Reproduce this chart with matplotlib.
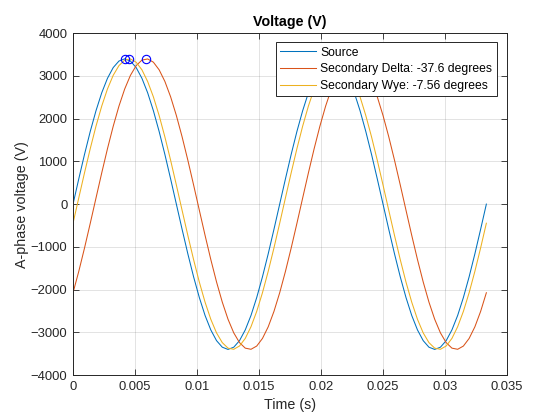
import numpy as np
import matplotlib
matplotlib.use("Agg")
import matplotlib.pyplot as plt

# samples every 10 degrees of a 60 Hz cycle (1/2160 s)
sample_step = 1.0 / 2160

source = [0, 590, 1163, 1700, 2185, 2605, 2944, 3195, 3348, 3400, 3348, 3195,
          2944, 2605, 2185, 1700, 1163, 590, 0, -590, -1163, -1700, -2185, -2605,
          -2944, -3195, -3348, -3400, -3348, -3195, -2944, -2605, -2185, -1700, -1163, -590,
          0, 590, 1163, 1700, 2185, 2605, 2944, 3195, 3348, 3400, 3348, 3195,
          2944, 2605, 2185, 1700, 1163, 590, 0, -590, -1163, -1700, -2185, -2605,
          -2944, -3195, -3348, -3400, -3348, -3195, -2944, -2605, -2185, -1700, -1163, -590,
          0]

delta = [-2074, -1575, -1028, -450, 142, 730, 1296, 1822, 2293, 2694, 3013, 3241,
         3370, 3397, 3321, 3143, 2871, 2511, 2074, 1575, 1028, 450, -142, -730,
         -1296, -1822, -2293, -2694, -3013, -3241, -3370, -3397, -3321, -3143, -2871, -2511,
         -2074, -1575, -1028, -450, 142, 730, 1296, 1822, 2293, 2694, 3013, 3241,
         3370, 3397, 3321, 3143, 2871, 2511, 2074, 1575, 1028, 450, -142, -730,
         -1296, -1822, -2293, -2694, -3013, -3241, -3370, -3397, -3321, -3143, -2871, -2511,
         -2074]

wye = [-447, 145, 732, 1298, 1824, 2294, 2695, 3014, 3241, 3370, 3397, 3320,
       3143, 2869, 2509, 2073, 1573, 1026, 447, -145, -732, -1298, -1824, -2294,
       -2695, -3014, -3241, -3370, -3397, -3320, -3143, -2869, -2509, -2073, -1573, -1026,
       -447, 145, 732, 1298, 1824, 2294, 2695, 3014, 3241, 3370, 3397, 3320,
       3143, 2869, 2509, 2073, 1573, 1026, 447, -145, -732, -1298, -1824, -2294,
       -2695, -3014, -3241, -3370, -3397, -3320, -3143, -2869, -2509, -2073, -1573, -1026,
       -447]

# first peak of each waveform
peak_t = [0.004167, 0.005911, 0.004517]
peak_v = [3400, 3400, 3400]

labels = ["Source", "Secondary Delta: -37.6 degrees", "Secondary Wye: -7.56 degrees"]
colors = ["#0072BD", "#D95319", "#EDB120"]

# simulation output starts at 0 before the first sample
t = np.concatenate([[0.0], np.arange(len(source)) * sample_step])

plt.rcParams["font.family"] = ["Liberation Sans", "DejaVu Sans"]

fig = plt.figure(figsize=(5.6, 4.2), dpi=100)
ax = fig.add_axes([0.1304, 0.107, 0.775, 0.814])

for vals, lab, col in zip([source, delta, wye], labels, colors):
    ax.plot(t, [0] + vals, color=col, lw=0.75, label=lab)

ax.plot(peak_t, peak_v, "o", mfc="none", mec="#0000FF", ms=6, mew=0.8)

ax.set_xlim(0, 0.035)
ax.set_ylim(-4000, 4000)
ax.set_xticks(np.arange(0, 0.0351, 0.005))
ax.set_xticklabels(["0", "0.005", "0.01", "0.015", "0.02", "0.025", "0.03", "0.035"])
ax.set_yticks(np.arange(-4000, 4001, 1000))

ax.grid(True, color="#262626", alpha=0.15, lw=0.6)
ax.tick_params(direction="in", length=4, width=0.6, top=True, right=True,
               labelsize=9.4, colors="#262626", pad=4)
for s in ax.spines.values():
    s.set_color("#262626")
    s.set_linewidth(0.7)

ax.set_title("Voltage (V)", fontsize=10.3, fontweight="bold", color="black", pad=5)
ax.set_xlabel("Time (s)", fontsize=10.3, color="#262626")
ax.set_ylabel("A-phase voltage (V)", fontsize=10.3, color="#262626", labelpad=1.5)

leg = ax.legend(loc="upper right", bbox_to_anchor=(0.976, 0.973), fontsize=8.7,
                fancybox=False, framealpha=1, edgecolor="#262626", handlelength=3.0,
                handletextpad=0.35, borderpad=0.35, labelspacing=0.38, borderaxespad=0)
leg.get_frame().set_linewidth(0.7)

fig.savefig("out.png", dpi=100, facecolor="white")
